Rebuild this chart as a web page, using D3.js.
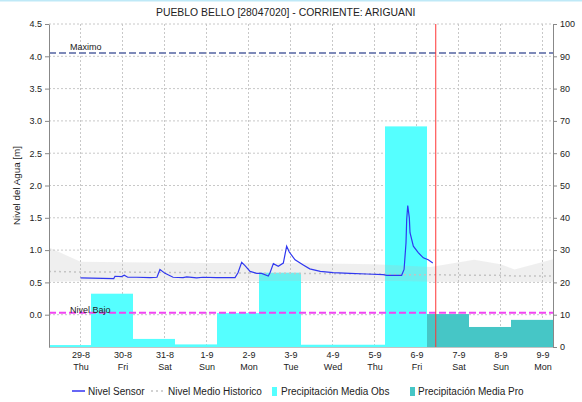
<!DOCTYPE html>
<html>
<head>
<meta charset="utf-8">
<script src="https://cdn.jsdelivr.net/npm/d3@7"></script>
<style>
  body { margin: 0; background: #fff; }
  svg { display: block; font-family: "Liberation Sans", Arial, sans-serif; }
  .axis text { font-size: 9px; fill: #222; }
  .axis path, .axis line { stroke: #888; }
</style>
</head>
<body>
<div class="chart"></div>
<script>
// ---- data ----
const stationTitle = 'PUEBLO BELLO [28047020] - CORRIENTE: ARIGUANI';

// x ticks (midnight of each day)
const dayLabels = ['29-8', '30-8', '31-8', '1-9', '2-9', '3-9', '4-9', '5-9', '6-9', '7-9', '8-9', '9-9'];
const weekdayLabels = ['Thu', 'Fri', 'Sat', 'Sun', 'Mon', 'Tue', 'Wed', 'Thu', 'Fri', 'Sat', 'Sun', 'Mon'];

// sensor level, hours counted from 29-8 00:00
const sensorHours = [0, 19, 19.7, 23.5, 25, 27, 32, 39.7, 43.7, 45.4, 48.3, 52.9, 58.6, 60.7, 66.4, 70, 77.8,
  88.3, 90, 92.1, 94, 96.9, 100.7, 103.5, 107.3, 108.3, 110.2, 113, 115.9, 117.8, 119.3, 122.6, 127.3,
  131, 137, 144.4, 154, 163.5, 173, 175, 183.5, 184.9, 186, 186.4, 187, 187.9, 188.3, 190.2, 193, 195.9, 198.7, 201.3];
const sensorLevel = [0.57, 0.56, 0.595, 0.59, 0.61, 0.58, 0.58, 0.575, 0.58, 0.70, 0.64, 0.58, 0.575, 0.585, 0.57, 0.58, 0.575,
  0.575, 0.65, 0.81, 0.76, 0.67, 0.64, 0.64, 0.60, 0.65, 0.79, 0.75, 0.80, 1.06, 0.97, 0.85, 0.77,
  0.71, 0.67, 0.65, 0.64, 0.63, 0.62, 0.61, 0.61, 0.70, 1.11, 1.475, 1.69, 1.50, 1.27, 1.06, 0.96, 0.88, 0.85, 0.80];

// historical level (band and mean), hours from 29-8 00:00
const histHours = [-18, 0, 24, 72, 120, 168, 183, 200, 225, 240, 248, 270];
const histUpper = [1.04, 0.82, 0.81, 0.80, 0.80, 0.78, 0.76, 0.74, 0.85, 0.78, 0.70, 0.86];
const histLower = [0.51, 0.52, 0.52, 0.52, 0.52, 0.52, 0.52, 0.51, 0.51, 0.51, 0.51, 0.51];
const histMean = [0.67, 0.66, 0.66, 0.65, 0.64, 0.63, 0.62, 0.62, 0.61, 0.61, 0.60, 0.60];

// daily precipitation [mm], each day starting 06:00
const precipObsDays = ['2019-08-28', '2019-08-29', '2019-08-30', '2019-08-31', '2019-09-01', '2019-09-02', '2019-09-03', '2019-09-04', '2019-09-05'];
const precipObs = [0.6, 16.5, 2.5, 0.8, 10.5, 23, 0.7, 0.7, 68.3];
const precipProDays = ['2019-09-06', '2019-09-07', '2019-09-08'];
const precipPro = [10.2, 6.2, 8.4];

const levelMax = 4.05;
const levelLow = 0.03;
const nowHours = 203; // 6-9 11:00

const legendItems = ['Nivel Sensor', 'Nivel Medio Historico', 'Precipitación Media Obs', 'Precipitación Media Pro'];

// ---- chart ----
class LevelChart {
  constructor() {
    this._width = 582;
    this._height = 402;
    this.left = 49;
    this.right = 553;
    this.top = 24;
    this.bottom = 347;
    this.base = new Date(2019, 7, 29, 0, 0);
    this.initialize();
  }

  initialize() {
    this.svg = d3.select('.chart')
      .append('svg')
      .attr('width', this._width)
      .attr('height', this._height);

    this.x = d3.scaleTime()
      .domain([new Date(2019, 7, 28, 6), new Date(2019, 8, 9, 6)])
      .range([this.left, this.right]);
    this.y = d3.scaleLinear().domain([-0.5, 4.5]).range([this.bottom, this.top]);
    this.yR = d3.scaleLinear().domain([0, 100]).range([this.bottom, this.top]);
  }

  at(h) {
    return new Date(this.base.getTime() + h * 3600e3);
  }

  dayStart(s) {
    const d = d3.timeParse('%Y-%m-%d')(s);
    return d3.timeHour.offset(d, 6);
  }

  drawGrid() {
    const g = this.svg.append('g')
      .attr('stroke', '#c8c8c8')
      .attr('stroke-dasharray', '2,2');
    g.selectAll('.hg').data(d3.range(0, 4.51, 0.5)).join('line')
      .attr('x1', this.left).attr('x2', this.right)
      .attr('y1', d => this.y(d)).attr('y2', d => this.y(d));
    const days = dayLabels.map((d, i) => d3.timeDay.offset(this.base, i));
    g.selectAll('.vg').data(days).join('line')
      .attr('x1', d => this.x(d)).attr('x2', d => this.x(d))
      .attr('y1', this.top).attr('y2', this.bottom);
    return this;
  }

  drawBars() {
    const g = this.svg.append('g');
    const obs = precipObsDays.map((d, i) => ({ t: this.dayStart(d), v: precipObs[i] }));
    const pro = precipProDays.map((d, i) => ({ t: this.dayStart(d), v: precipPro[i] }));
    g.selectAll('.obs').data(obs).join('rect')
      .attr('x', d => this.x(d.t))
      .attr('width', d => this.x(d3.timeDay.offset(d.t, 1)) - this.x(d.t))
      .attr('y', d => this.yR(d.v))
      .attr('height', d => this.yR(0) - this.yR(d.v))
      .attr('fill', '#55ffff');
    g.selectAll('.pro').data(pro).join('rect')
      .attr('x', d => this.x(d.t))
      .attr('width', d => this.x(d3.timeDay.offset(d.t, 1)) - this.x(d.t))
      .attr('y', d => this.yR(d.v))
      .attr('height', d => this.yR(0) - this.yR(d.v))
      .attr('fill', '#46c6c6');
    return this;
  }

  drawHistoric() {
    const pts = histHours.map((h, i) => ({ t: this.at(h), hi: histUpper[i], lo: histLower[i], m: histMean[i] }));
    const area = d3.area()
      .x(d => this.x(d.t)).y0(d => this.y(d.lo)).y1(d => this.y(d.hi));
    this.svg.append('path').datum(pts)
      .attr('d', area)
      .attr('fill', '#bbbbbb')
      .attr('fill-opacity', 0.24);
    const line = d3.line().x(d => this.x(d.t)).y(d => this.y(d.m));
    this.svg.append('path').datum(pts)
      .attr('d', line)
      .attr('fill', 'none')
      .attr('stroke', '#c4c4c4')
      .attr('stroke-width', 1.5)
      .attr('stroke-dasharray', '2,3');
    return this;
  }

  drawLevels() {
    const lv = [
      { v: levelMax, c: '#7d89b8', name: 'Maximo' },
      { v: levelLow, c: '#f244f2', name: 'Nivel Bajo' }
    ];
    const g = this.svg.append('g');
    g.selectAll('line').data(lv).join('line')
      .attr('x1', this.left).attr('x2', this.right)
      .attr('y1', d => this.y(d.v)).attr('y2', d => this.y(d.v))
      .attr('stroke', d => d.c)
      .attr('stroke-width', 2)
      .attr('stroke-dasharray', '7,3');
    g.selectAll('text').data(lv).join('text')
      .attr('x', 70)
      .attr('y', d => this.y(d.v) - (d.name === 'Maximo' ? 3 : 0))
      .attr('font-size', 9)
      .attr('fill', '#222')
      .text(d => d.name);
    return this;
  }

  drawSensor() {
    const pts = sensorHours.map((h, i) => ({ t: this.at(h), v: sensorLevel[i] }));
    this.svg.append('path').datum(pts)
      .attr('d', d3.line().x(d => this.x(d.t)).y(d => this.y(d.v)))
      .attr('fill', 'none')
      .attr('stroke', '#3038f0')
      .attr('stroke-width', 1.2);
    const nx = this.x(this.at(nowHours));
    this.svg.append('line')
      .attr('x1', nx).attr('x2', nx)
      .attr('y1', this.top).attr('y2', this.bottom)
      .attr('stroke', '#ff3535')
      .attr('stroke-width', 1);
    return this;
  }

  drawAxes() {
    this.svg.append('g').attr('class', 'axis')
      .attr('transform', `translate(${this.left},0)`)
      .call(d3.axisLeft(this.y).tickValues(d3.range(0, 4.51, 0.5))
        .tickFormat(d3.format('.1f')).tickSize(4).tickSizeOuter(0));
    this.svg.append('g').attr('class', 'axis')
      .attr('transform', `translate(${this.right},0)`)
      .call(d3.axisRight(this.yR).tickValues(d3.range(0, 101, 10))
        .tickSize(4).tickSizeOuter(0));

    const days = dayLabels.map((d, i) => d3.timeDay.offset(this.base, i));
    const bottom = this.svg.append('g').attr('class', 'axis')
      .attr('transform', `translate(0,${this.bottom})`)
      .call(d3.axisBottom(this.x).tickValues(days).tickSize(0).tickSizeOuter(0)
        .tickFormat((d, i) => dayLabels[i]));
    bottom.select('.domain').attr('stroke', '#333').attr('stroke-dasharray', '1,1');
    bottom.selectAll('.tick text').attr('dy', null).attr('y', 11)
      .each(function (d, i) {
        d3.select(this).append('tspan')
          .attr('x', 0).attr('dy', 12)
          .text(weekdayLabels[i]);
      });

    this.svg.append('text')
      .attr('transform', `translate(20,${(this.top + this.bottom) / 2}) rotate(-90)`)
      .attr('text-anchor', 'middle')
      .attr('font-size', 9.8)
      .attr('fill', '#222')
      .text('Nivel del Agua [m]');

    this.svg.append('text')
      .attr('x', 156).attr('y', 16)
      .attr('font-size', 10.4)
      .attr('fill', '#222')
      .text(stationTitle);

    this.svg.append('rect')
      .attr('x', 0).attr('y', 0).attr('width', this._width).attr('height', 1.5)
      .attr('fill', '#bfe9f7');
    return this;
  }

  drawLegend() {
    const g = this.svg.append('g').attr('font-size', 10).attr('fill', '#222');
    const y = 395;
    g.append('line').attr('x1', 72).attr('x2', 85).attr('y1', y - 4).attr('y2', y - 4)
      .attr('stroke', '#0000ee').attr('stroke-width', 1.2);
    g.append('line').attr('x1', 151).attr('x2', 165).attr('y1', y - 4).attr('y2', y - 4)
      .attr('stroke', '#c4c4c4').attr('stroke-width', 1.5).attr('stroke-dasharray', '2,3');
    g.append('rect').attr('x', 272).attr('y', y - 8).attr('width', 5).attr('height', 9).attr('fill', '#55ffff');
    g.append('rect').attr('x', 410).attr('y', y - 8).attr('width', 5).attr('height', 9).attr('fill', '#46c6c6');
    const xs = [88, 168, 281, 418];
    g.selectAll('text').data(legendItems).join('text')
      .attr('x', (d, i) => xs[i]).attr('y', y)
      .text(d => d);
    return this;
  }

  draw() {
    this
      .drawGrid()
      .drawBars()
      .drawHistoric()
      .drawLevels()
      .drawSensor()
      .drawAxes()
      .drawLegend();
    return this;
  }
}

new LevelChart().draw();
</script>
</body>
</html>
